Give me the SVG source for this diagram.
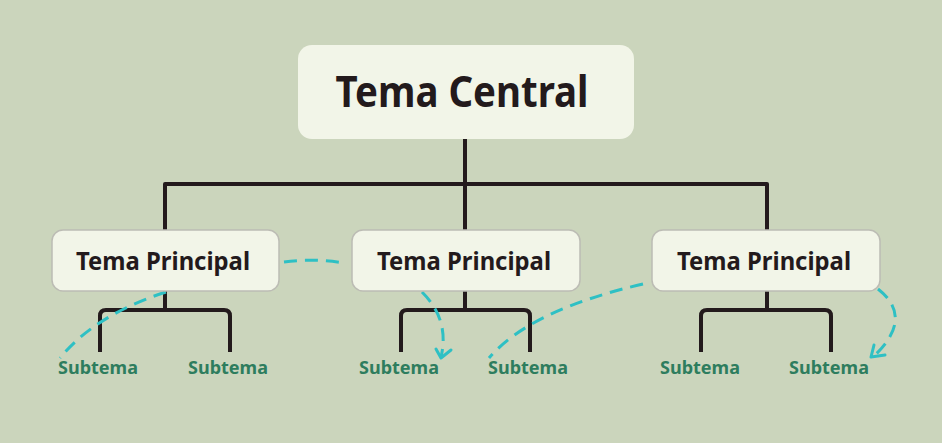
<svg xmlns="http://www.w3.org/2000/svg" width="942" height="443" viewBox="0 0 942 443">
  <defs>
    <style>
      .bg { fill: #cbd5bc; }
      .central { fill: #f2f5e8; }
      .main { fill: #f2f5e8; stroke: #bcbcb4; stroke-width: 1.5; }
      .tree { fill: none; stroke: #231a1c; stroke-width: 4; stroke-linejoin: round; }
      .t-central { font-family: "Noto Sans", "Open Sans", sans-serif; font-weight: bold; font-size: 43px; fill: #231a1c; text-anchor: middle; }
      .t-main { font-family: "Noto Sans", "Open Sans", sans-serif; font-weight: bold; font-size: 25.5px; fill: #231a1c; text-anchor: middle; }
      .t-sub { font-family: "Noto Sans", "Open Sans", sans-serif; font-weight: bold; font-size: 18px; fill: #2e7d5e; text-anchor: middle; }
      .rel { fill: none; stroke: #2ec0c4; stroke-width: 3; stroke-dasharray: 13 8; stroke-linecap: butt; }
      .arrow { fill: none; stroke: #2ec0c4; stroke-width: 3; stroke-linecap: round; stroke-linejoin: round; }
    </style>
  </defs>
  <rect class="bg" x="0" y="0" width="942" height="443"/>

  <g id="connectors">
    <path class="tree" d="M465 139 V184 M165 230 V184 H767 V230 M465 184 V230"/>
    <path class="tree" d="M165 291 V310 M100 352 V316 Q100 310 106 310 H224 Q230 310 230 316 V352"/>
    <path class="tree" d="M465 291 V310 M401 352 V316 Q401 310 407 310 H524 Q530 310 530 316 V352"/>
    <path class="tree" d="M767 291 V310 M701 352 V316 Q701 310 707 310 H825 Q831 310 831 316 V352"/>
    <path class="rel" d="M284 262 Q314 258 344 263"/>
    <path class="rel" d="M166 292 Q95 315 60 358"/>
    <path class="rel" d="M422 292 Q450 320 441 357"/>
    <path class="arrow" d="M436 349 L441 358 L451 350"/>
    <path class="rel" d="M643 284 Q530 310 489 358"/>
    <path class="rel" d="M878 289 Q915 318 873 357"/>
    <path class="arrow" d="M874 345 L871 357 L885 355"/>
  </g>

  <g id="central">
    <rect class="central" x="298" y="45" width="336" height="94" rx="14"/>
    <text class="t-central" x="462" y="107" textLength="253" lengthAdjust="spacingAndGlyphs">Tema Central</text>
  </g>

  <g id="main1">
    <rect class="main" x="52" y="230" width="227" height="61" rx="11"/>
    <text class="t-main" x="163" y="270" textLength="174" lengthAdjust="spacingAndGlyphs">Tema Principal</text>
  </g>
  <g id="main2">
    <rect class="main" x="352" y="230" width="228" height="61" rx="11"/>
    <text class="t-main" x="464" y="270" textLength="174" lengthAdjust="spacingAndGlyphs">Tema Principal</text>
  </g>
  <g id="main3">
    <rect class="main" x="652" y="230" width="228" height="61" rx="11"/>
    <text class="t-main" x="764" y="270" textLength="174" lengthAdjust="spacingAndGlyphs">Tema Principal</text>
  </g>

  <g id="sub1"><text class="t-sub" x="98" y="374" textLength="80" lengthAdjust="spacingAndGlyphs">Subtema</text></g>
  <g id="sub2"><text class="t-sub" x="228" y="374" textLength="80" lengthAdjust="spacingAndGlyphs">Subtema</text></g>
  <g id="sub3"><text class="t-sub" x="399" y="374" textLength="80" lengthAdjust="spacingAndGlyphs">Subtema</text></g>
  <g id="sub4"><text class="t-sub" x="528" y="374" textLength="80" lengthAdjust="spacingAndGlyphs">Subtema</text></g>
  <g id="sub5"><text class="t-sub" x="700" y="374" textLength="80" lengthAdjust="spacingAndGlyphs">Subtema</text></g>
  <g id="sub6"><text class="t-sub" x="829" y="374" textLength="80" lengthAdjust="spacingAndGlyphs">Subtema</text></g>
</svg>
